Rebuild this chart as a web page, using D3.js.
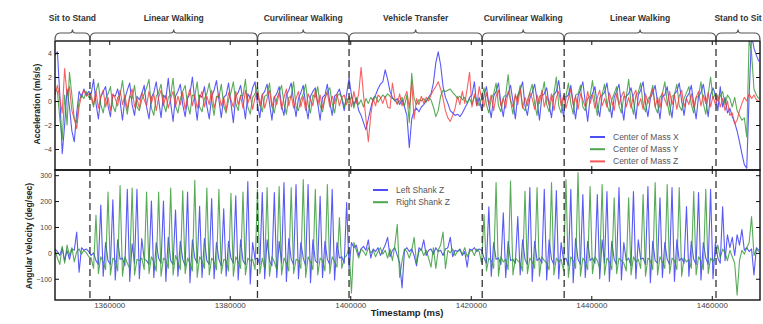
<!DOCTYPE html>
<html>
<head>
<meta charset="utf-8">
<script src="https://cdn.jsdelivr.net/npm/d3@7"></script>
<style>
body { margin: 0; background: #fff; }
svg { display: block; font-family: "Liberation Sans", Arial, sans-serif; }
</style>
</head>
<body>
<svg width="763" height="324"></svg>
<script>
// sample grid of the recording (ms)
const t0 = 1351000, dt = 400;

// activity segments and where they end
const sections = ["Sit to Stand", "Linear Walking", "Curvilinear Walking", "Vehicle Transfer",
                  "Curvilinear Walking", "Linear Walking", "Stand to Sit"];
const sectionBounds = [1351000, 1356800, 1384600, 1399800, 1421900, 1435500, 1460700, 1468000];

const xTicks = [1360000, 1380000, 1400000, 1420000, 1440000, 1460000];
const accTicks = [-4, -2, 0, 2, 4];
const gyroTicks = [-100, 0, 100, 200, 300];

// center of mass acceleration (m/s/s)
const accX = [
  3.8, 4.1, 0.5, -4.4, -2.0, 1.0, -0.5, -2.5, -3.4, -1.0,
  0.8, 0.3, 1.0, 0.5, 0.8, 0.6, 1.8, -0.2, -1.5, 0.3,
  0.8, 1.2, -0.4, -1.3, 0.5, 0.4, 1.0, 0.0, -1.6, 0.2,
  0.9, 1.5, -0.3, -1.2, 0.4, 0.1, 0.6, 1.3, -0.5, -1.5,
  0.3, 0.7, 1.6, 0.1, -1.4, 0.5, 0.2, 1.9, -0.2, -1.7,
  0.4, 0.8, 1.4, -0.3, -1.3, 0.2, 0.6, 2.0, 0.0, -1.6,
  0.5, 0.3, 1.2, -0.4, -1.5, 0.4, 0.9, 1.7, 0.1, -1.4,
  0.3, 0.5, 1.5, -0.2, -1.8, 0.4, 0.7, 1.3, 0.0, -1.5,
  0.6, 0.2, 1.1, 1.6, -0.3, -1.4, 0.5, 0.8, 1.4, -0.2,
  -1.6, 0.3, 0.6, 1.2, -0.4, -1.2, 0.5, 0.9, 1.5, 0.0,
  -1.3, 0.2, 0.7, 1.3, -0.3, -1.5, 0.4, 0.8, 1.1, -0.2,
  -1.6, 0.3, 0.5, 1.4, -0.1, -1.2, 0.4, 0.6, 1.0, 0.2,
  -0.8, 0.6, 1.9, 0.5, -0.3, 0.2, -0.8, -1.2, -1.8, -2.4,
  -1.5, -0.6, 0.2, 0.5, 1.0, 1.4, 1.6, 2.6, 1.8, 0.8,
  0.3, 0.0, 0.2, -0.3, 0.1, -0.5, -1.2, -3.9, -1.5, -0.8,
  -0.6, -0.9, -0.5, -0.3, 0.0, 0.3, 0.6, 1.5, 3.2, 4.1,
  3.0, 1.2, 0.3, -0.2, -0.8, -1.0, -1.2, -1.1, -1.3, -1.0,
  -0.6, -0.2, 0.3, 0.5, 1.6, -0.4, 0.3, -0.8, 0.5, 1.2,
  -0.3, -1.4, 0.4, 0.8, 1.5, -0.2, -1.3, 0.3, 0.6, 1.3,
  0.0, -1.5, 0.5, 0.9, 1.6, -0.4, -1.2, 0.2, 0.7, 1.4,
  0.1, -1.6, 0.4, 0.6, 1.1, -0.3, -1.4, 0.5, 0.8, 1.7,
  0.0, -1.3, 0.3, 0.5, 1.3, -0.2, -1.5, 0.4, 0.9, 1.6,
  -0.1, -1.7, 0.2, 0.6, 1.2, -0.4, -1.3, 0.5, 0.7, 1.5,
  0.0, -1.4, 0.3, 0.8, 1.4, -0.3, -1.6, 0.4, 0.6, 1.1,
  0.1, -1.5, 0.5, 0.9, 1.6, -0.2, -1.3, 0.2, 0.7, 1.3,
  -0.1, -1.5, 0.4, 0.5, 1.2, -0.3, -1.4, 0.6, 0.8, 1.5,
  0.0, -1.2, 0.3, 0.6, 1.3, -0.2, -1.5, 0.4, 0.7, 1.4,
  0.1, -1.3, 0.5, 1.1, 0.5, -0.8, 1.2, -0.5, 0.3, -1.0,
  -0.6, -1.3, -1.8, -2.5, -3.4, -4.4, -5.3, -5.6, 0.5, 5.5,
  4.4, 3.8, 3.3
];
const accY = [
  1.0, 0.8, -1.5, -3.2, 0.5, -2.0, 2.4, 0.5, -1.5, -1.8,
  0.0, 0.5, 0.2, 0.8, 0.3, 0.3, -0.5, 0.8, 1.5, -0.3,
  -1.0, 0.2, 0.6, 1.2, -0.4, -0.9, 0.3, 0.5, 1.7, 0.0,
  -1.1, 0.4, 0.2, 1.3, -0.5, -0.8, 0.1, 0.6, 1.1, 1.8,
  -0.6, -1.2, 0.4, 0.7, 1.4, -0.2, -0.9, 0.3, 0.5, 1.9,
  -0.4, -1.0, 0.2, 0.8, 1.3, -0.3, -1.1, 0.5, 0.4, 1.6,
  -0.5, -0.9, 0.2, 0.6, 1.5, 0.0, -1.2, 0.4, 0.3, 1.4,
  -0.4, -1.0, 0.1, 0.7, 1.6, -0.2, -0.8, 0.5, 0.4, 1.8,
  -0.5, -1.1, 0.3, 0.6, 1.2, -0.3, -0.9, 0.4, 0.5, 1.5,
  -0.4, -1.0, 0.2, 0.7, 1.3, -0.2, -1.1, 0.3, 0.4, 1.6,
  -0.5, -0.8, 0.1, 0.6, 1.4, -0.3, -1.0, 0.5, 0.3, 1.2,
  -0.4, -0.9, 0.2, 0.8, 1.1, -0.2, -1.0, 0.4, 0.6, 0.3,
  -0.5, 0.2, -0.2, 0.4, -0.6, 0.3, -0.3, 0.1, -0.5, 0.2,
  -0.2, 0.3, 0.0, 0.4, -0.1, 0.2, 0.5, 0.3, 0.6, 0.4,
  0.2, 0.1, -0.2, 0.0, 0.3, -0.4, 0.5, -1.8, 2.3, 0.2,
  -0.3, 0.1, 0.0, 0.2, -0.1, 0.3, 0.1, -0.5, -1.3, -0.8,
  0.4, 0.9, 0.8, 0.9, 1.0, 0.7, 0.5, 0.2, 0.4, 0.1,
  0.3, -0.2, 0.2, -0.3, 0.4, 0.1, -0.4, 0.3, 1.1, -0.3,
  -1.0, 0.2, 0.6, 1.5, -0.4, -0.9, 0.3, 0.5, 2.2, 0.0,
  -1.1, 0.4, 0.2, 1.3, -0.5, -0.8, 0.1, 0.7, 1.4, -0.2,
  -1.2, 0.4, 0.5, 1.6, -0.3, -0.9, 0.2, 0.6, 2.0, -0.4,
  -1.0, 0.3, 0.4, 1.5, -0.2, -1.1, 0.5, 0.6, 1.3, -0.5,
  -0.8, 0.2, 0.4, 1.7, 0.0, -1.2, 0.3, 0.5, 1.4, -0.3,
  -0.9, 0.1, 0.6, 1.2, -0.4, -1.0, 0.4, 0.3, 1.8, -0.2,
  -1.1, 0.5, 0.7, 1.5, -0.3, -0.9, 0.2, 0.4, 1.3, -0.5,
  -1.0, 0.3, 0.6, 1.6, -0.1, -1.2, 0.4, 0.5, 1.4, -0.4,
  -0.8, 0.2, 0.7, 1.2, -0.3, -1.0, 0.3, 0.4, 1.6, -0.2,
  -1.1, 0.5, 2.0, 0.2, 0.6, 0.0, 0.4, 0.8, -0.3, 0.5,
  0.2, -0.5, 0.3, -0.8, -1.2, -1.6, -1.4, -3.0, 5.2, 4.0,
  1.0, 0.5, 0.2
];
const accZ = [
  0.5, 1.3, 0.2, -1.0, 2.7, 0.5, 1.2, -0.8, -1.5, -2.3,
  -0.5, 0.5, 0.9, 0.4, 0.6, 0.5, -0.3, 0.8, -0.6, 0.4,
  0.9, -0.5, 0.3, -0.8, 0.6, 0.2, -0.4, 0.9, -0.3, 0.5,
  -0.7, 0.4, 1.0, -0.5, 0.2, -0.6, 0.7, 0.1, -0.4, 0.8,
  -0.2, 0.6, -0.8, 0.3, 0.9, -0.4, 0.5, -0.6, 0.2, 0.8,
  -0.5, 0.4, -0.3, 0.7, -0.7, 0.3, 1.0, -0.4, 0.5, -0.6,
  0.2, 0.8, -0.5, 0.4, -0.3, 0.9, -0.6, 0.2, 0.6, -0.4,
  0.3, -0.8, 0.7, 0.1, -0.5, 0.8, -0.3, 0.4, -0.6, 0.9,
  -0.2, 0.5, -0.7, 0.3, 0.8, -0.4, 0.6, -0.6, 0.2, 0.9,
  -0.5, 0.4, -0.3, 0.7, -0.7, 0.3, 1.0, -0.4, 0.5, -0.6,
  0.2, 0.8, -0.5, 0.4, -0.8, 0.6, 0.1, -0.4, 0.9, -0.3,
  0.5, -0.6, 0.3, 0.7, -0.5, 0.4, -0.2, 0.6, -0.4, 0.3,
  0.5, -0.3, 0.4, -0.5, 0.8, -0.2, 0.6, 2.8, 0.5, -1.5,
  -3.4, -1.2, 0.2, -0.4, 0.5, 0.3, -0.2, 0.4, -0.5, -0.6,
  1.5, 0.2, -0.3, 0.6, -0.4, 0.3, 0.8, -0.6, 1.6, -1.5,
  0.2, -0.3, 0.4, -0.2, 0.3, 0.0, 0.5, 0.9, 1.2, 1.6,
  1.0, 0.2, -0.8, -1.4, -1.7, -1.2, -0.6, 0.4, -0.3, 0.8,
  -0.2, 1.0, 2.4, -0.5, 0.6, -0.4, 1.2, 0.2, -0.5, 0.7,
  -0.3, 0.5, -0.8, 0.4, 0.9, -0.4, 0.2, -0.6, 0.8, 0.1,
  -0.5, 0.6, -0.3, 1.0, -0.6, 0.3, -0.4, 0.7, 0.2, -0.7,
  0.5, -0.2, 0.9, -0.5, 0.4, -0.3, 0.6, -0.8, 0.3, 0.8,
  -0.4, 0.5, -0.6, 0.2, 1.0, -0.3, 0.4, -0.7, 0.6, 0.1,
  -0.5, 0.8, -0.2, 0.5, -0.6, 0.3, 0.9, -0.4, 0.2, -0.5,
  0.7, 0.0, -0.8, 0.6, -0.3, 0.4, 0.8, -0.5, 0.3, -0.6,
  0.5, 0.9, -0.4, 0.2, -0.7, 0.6, -0.2, 0.4, 1.0, -0.5,
  0.3, -0.6, 0.7, 0.1, -0.4, 0.8, -0.3, 0.5, -0.7, 0.4,
  0.9, -0.5, 0.2, -0.3, 0.6, -0.6, 0.3, 0.8, -0.4, 0.5,
  -0.2, 0.7, -0.5, 0.4, -0.3, 0.5, -0.5, 0.2, -0.8, 0.0,
  -1.2, -1.0, -1.9, -1.6, -0.8, -0.2, 0.3, 0.0, 0.6, 0.2,
  0.5, 0.1, 0.0
];

// shank angular velocity (deg/sec)
const shankL = [
  15, 5, -10, 20, -30, 10, -25, 15, 10, 80,
  -75, 20, 10, 15, 5, -10, 0, -30, -45, 185,
  -90, 40, -30, -45, 205, -105, 50, -25, -20, -50,
  245, -110, 35, -40, 245, -100, 55, -25, -30, -45,
  200, -95, 40, -20, -40, 200, -110, 60, -30, -45,
  165, -90, 45, -25, -50, 235, -115, 50, -20, -40,
  180, -95, 55, -30, -45, 210, -100, 40, -25, -50,
  170, -90, 45, -20, -40, 220, -105, 50, -30, -45,
  275, -120, 40, -25, -20, -45, 233, -100, 50, -30,
  -50, 233, -95, 45, -40, 272, -110, 55, -25, -45,
  264, -100, 40, -20, -50, 264, -115, 50, -30, -40,
  218, -95, 45, -25, -45, 245, -105, 40, -20, -15,
  -40, 194, -60, 40, 20, 30, -10, 15, 25, 10,
  50, -20, 15, 5, 20, -10, 10, 30, 60, -15,
  10, 20, -10, -40, -135, 10, 20, 5, 15, -10,
  -50, 20, 10, 50, -10, 10, 15, -5, 20, 5,
  10, -10, 15, 20, 60, -15, 10, 5, 15, -10,
  5, -55, 15, 10, 20, 5, 15, 10, -20, -40,
  178, -90, 40, -25, -20, -45, 155, -95, 45, -30,
  -25, -40, 140, -85, 50, -25, -45, 252, -110, 45,
  -30, -20, -40, 245, -105, 50, -25, -45, 241, -100,
  40, -30, -20, -50, 245, -115, 55, -25, -45, 225,
  -95, 45, -30, -20, -40, 225, -100, 50, -40, 237,
  -110, 45, -25, -45, 252, -105, 40, -30, -20, -50,
  237, -100, 50, -25, -20, -45, 256, -115, 45, -30,
  -40, 213, -95, 40, -25, -45, 252, -110, 50, -30,
  -20, -40, 179, -90, 45, -25, -45, 233, -105, 40,
  -20, -45, 245, -100, 40, -20, -40, 178, -30, 70,
  20, 60, -10, 70, 30, 90, 10, 20, 5, 15,
  -85, 20, 10
];
const shankR = [
  10, -20, -45, 25, -40, 30, -10, 20, -35, 5,
  15, -5, 10, 0, -15, -20, -60, 145, -80, -15,
  -35, -65, 235, -85, -20, -30, -70, 260, -90, -15,
  -40, -60, 250, -85, -25, -30, -20, -65, 235, -80,
  -15, -35, -70, 235, -90, -20, -30, -60, 250, -85,
  -10, -35, -65, 240, -80, -20, -40, -70, 280, -95,
  -15, -30, -60, 250, -85, -20, -35, -65, 245, -80,
  -25, -30, -70, 230, -90, -15, -35, -60, 235, -85,
  -20, -30, -25, -65, 245, -80, -20, -60, 252, -90,
  -15, -35, -65, 256, -85, -20, -40, -70, 252, -80,
  -25, -30, -60, 283, -95, -15, -35, -65, 245, -85,
  -20, -30, -70, 264, -80, -15, -35, -55, 136, -60,
  -20, -10, 20, -155, 40, 10, -20, 15, 5, -10,
  20, 0, 10, -15, 5, 20, -5, 10, -20, 15,
  -30, 30, 110, -95, -30, 15, 5, -20, 10, 60,
  -40, 5, 15, -10, 10, -20, -55, 20, -60, 10,
  30, 80, -60, 10, 0, 15, -10, 5, 10, -5,
  20, -15, 5, 10, -10, 15, 5, -40, 148, -70,
  -20, -30, -60, 272, -90, -15, -35, -25, -65, 277,
  -85, -20, -30, -40, -70, 238, -80, -20, -35, -60,
  252, -90, -15, -30, -40, -65, 272, -85, -20, -35,
  -25, -70, 283, -95, -15, -30, -60, 310, -90, -20,
  -35, -65, 256, -80, -15, -30, -60, 264, -85, -20,
  -35, -65, 213, -80, -20, -30, -40, -70, 213, -85,
  -15, -35, -25, -60, 225, -90, -20, -30, -65, 272,
  -85, -15, -35, -60, 264, -80, -20, -30, -65, 252,
  -90, -20, -35, -25, -60, 237, -85, -15, -30, -65,
  245, -80, -20, -35, -10, 30, -20, 15, 0, -30,
  10, -15, -40, -163, -30, 10, -5, 20, 40, 140,
  -10, 15, 5
];

const accNames = ["Center of Mass X", "Center of Mass Y", "Center of Mass Z"];
const gyroNames = ["Left Shank Z", "Right Shank Z"];
const colors = {blue: "#2f2ff5", green: "#2f962f", red: "#f53a3a"};

var svg = d3.select("svg");
svg.append("rect").attr("width", 763).attr("height", 324).attr("fill", "#fff");

var left = 55, right = 760;
var x = d3.scaleLinear().domain([sectionBounds[0], sectionBounds[7]]).range([left, right]);
var yAcc = d3.scaleLinear().domain([-5.75, 5]).range([170, 41]);
var yGyro = d3.scaleLinear().domain([-182, 320]).range([300, 170]);

var times = accX.map(function(d, i) { return t0 + i * dt; });

var defs = svg.append("defs");
function addClip(id, y0, y1) {
  defs.append("clipPath").attr("id", id).append("rect")
    .attr("x", left).attr("y", y0).attr("width", right - left).attr("height", y1 - y0);
}
addClip("clipAcc", 41, 170);
addClip("clipGyro", 170, 300);

function drawSeries(g, values, yScale, color) {
  var line = d3.line()
    .x(function(d, i) { return x(times[i]); })
    .y(function(d) { return yScale(d); });
  g.append("path").datum(values)
    .attr("d", line)
    .attr("fill", "none")
    .attr("stroke", color)
    .attr("stroke-width", 1.1)
    .attr("stroke-opacity", 0.8)
    .attr("stroke-linejoin", "round");
}

var gAcc = svg.append("g").attr("clip-path", "url(#clipAcc)");
drawSeries(gAcc, accX, yAcc, colors.blue);
drawSeries(gAcc, accY, yAcc, colors.green);
drawSeries(gAcc, accZ, yAcc, colors.red);

var gGyro = svg.append("g").attr("clip-path", "url(#clipGyro)");
drawSeries(gGyro, shankL, yGyro, colors.blue);
drawSeries(gGyro, shankR, yGyro, colors.green);

// dashed section boundaries
svg.append("g").selectAll("line")
  .data(sectionBounds.slice(1, 7))
  .enter().append("line")
  .attr("x1", function(d) { return x(d); }).attr("x2", function(d) { return x(d); })
  .attr("y1", 38).attr("y2", 300)
  .attr("stroke", "#333").attr("stroke-width", 1.3)
  .attr("stroke-dasharray", "7,4");

function minus(d) { return d < 0 ? "\u2212" + Math.abs(d) : String(d); }

function frame(yScale, ticks, y0, y1, showX) {
  var g = svg.append("g").attr("font-family", "'DejaVu Sans', sans-serif");
  var la = g.append("g").attr("transform", "translate(" + left + ",0)")
    .call(d3.axisLeft(yScale).tickValues(ticks).tickSize(-4).tickPadding(3).tickFormat(minus));
  la.selectAll("text").attr("font-size", 7).attr("fill", "#444");
  g.append("g").attr("transform", "translate(" + right + ",0)")
    .call(d3.axisRight(yScale).tickValues(ticks).tickSize(-4).tickFormat(""));
  g.append("g").attr("transform", "translate(0," + y0 + ")")
    .call(d3.axisTop(x).tickValues(xTicks).tickSize(-4).tickFormat(""));
  var ba = g.append("g").attr("transform", "translate(0," + y1 + ")")
    .call(d3.axisBottom(x).tickValues(xTicks).tickSize(-4).tickPadding(2)
      .tickFormat(showX ? d3.format("d") : ""));
  ba.selectAll("text").attr("font-size", 8).attr("fill", "#444");
  g.selectAll(".domain").remove();
  g.selectAll(".tick line").attr("stroke", "#111");
  g.append("rect").attr("x", left).attr("y", y0).attr("width", right - left).attr("height", y1 - y0)
    .attr("fill", "none").attr("stroke", "#111").attr("stroke-width", 1.4);
}
frame(yAcc, accTicks, 41, 170, false);
frame(yGyro, gyroTicks, 170, 300, true);

// curly brackets over each section
var brace = svg.append("g");
sections.forEach(function(name, i) {
  var x1 = x(sectionBounds[i]), x2 = x(sectionBounds[i + 1]), m = (x1 + x2) / 2;
  var p = "M" + x1 + ",40 Q" + x1 + ",33 " + (x1 + 5) + ",33 L" + (m - 3) + ",33 Q" + m + ",33 " + m + ",29.5"
        + " Q" + m + ",33 " + (m + 3) + ",33 L" + (x2 - 5) + ",33 Q" + x2 + ",33 " + x2 + ",40";
  brace.append("path").attr("d", p).attr("fill", "none")
    .attr("stroke", "#555").attr("stroke-width", 1.2);
  brace.append("text").attr("x", Math.min(m, 738)).attr("y", 21)
    .attr("text-anchor", "middle").attr("font-size", 8.5).attr("font-weight", "bold")
    .attr("fill", "#333").text(name);
});

// axis titles
svg.append("text").attr("transform", "translate(37,104) rotate(-90)")
  .attr("text-anchor", "middle").attr("dominant-baseline", "central")
  .attr("font-size", 8.5).attr("font-weight", "bold").attr("fill", "#222")
  .text("Acceleration (m/s/s)");
svg.append("text").attr("transform", "translate(29,236) rotate(-90)")
  .attr("text-anchor", "middle").attr("dominant-baseline", "central")
  .attr("font-size", 8.5).attr("font-weight", "bold").attr("fill", "#222")
  .text("Angular Velocity (deg/sec)");
svg.append("text").attr("x", 407).attr("y", 316)
  .attr("text-anchor", "middle").attr("font-size", 9.5).attr("font-weight", "bold").attr("fill", "#222")
  .text("Timestamp (ms)");

// legends
function legend(names, cols, lx, ly, step) {
  var g = svg.append("g");
  names.forEach(function(n, i) {
    var yy = ly + i * step;
    g.append("line").attr("x1", lx).attr("x2", lx + 15).attr("y1", yy).attr("y2", yy)
      .attr("stroke", cols[i]).attr("stroke-width", 2).attr("stroke-opacity", 0.85);
    g.append("text").attr("x", lx + 23).attr("y", yy).attr("dy", "0.35em")
      .attr("font-size", 8.5).attr("fill", "#555").text(n);
  });
}
legend(accNames, [colors.blue, colors.green, colors.red], 590, 137, 12.2);
legend(gyroNames, [colors.blue, colors.green], 373, 190, 12.2);
</script>
</body>
</html>
